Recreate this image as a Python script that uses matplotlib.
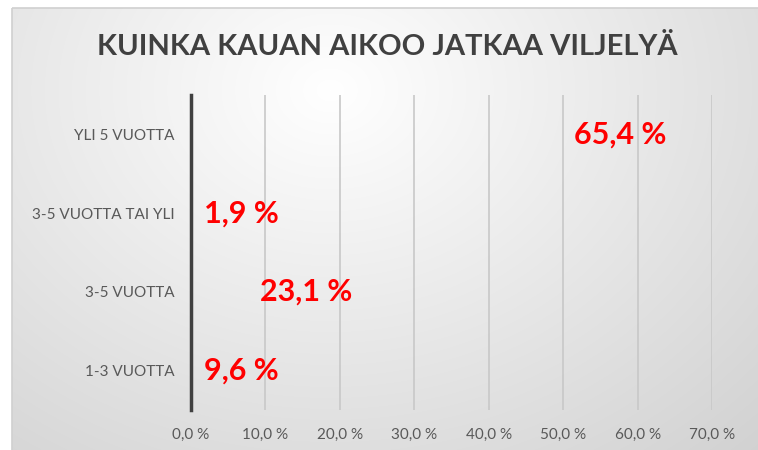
import numpy as np
import matplotlib
matplotlib.use("Agg")
import matplotlib.pyplot as plt
from matplotlib.patches import Rectangle

categories = ["1-3 VUOTTA", "3-5 VUOTTA", "3-5 VUOTTA TAI YLI", "YLI 5 VUOTTA"]
values = [9.6, 23.1, 1.9, 65.4]
xticks = [0, 10, 20, 30, 40, 50, 60, 70]
title = "KUINKA KAUAN AIKOO JATKAA VILJELYÄ"

plt.rcParams['font.family'] = ['Lato', 'DejaVu Sans']

W, H = 758, 450
fig = plt.figure(figsize=(W / 100, H / 100), dpi=100)

# background gradient of the chart area
bg = fig.add_axes([0, 0, 1, 1])
yy, xx = np.mgrid[0:H, 0:W]
d = np.sqrt(((xx - 330) / 520.0) ** 2 + ((yy - 90) / 420.0) ** 2)
shade = np.clip(1.0 - 0.15 * d, 0.82, 1.0)
img = np.dstack([shade, shade, shade])
img[:8, :, :] = 1.0
img[:, :12, :] = 1.0
bg.imshow(img, extent=[0, W, H, 0], aspect='auto', interpolation='bilinear')
bg.add_patch(Rectangle((12, 8), W, H, fill=False, edgecolor='#d0d0d0', lw=1.2))
bg.set_xlim(0, W)
bg.set_ylim(H, 0)
bg.axis('off')

ax = fig.add_axes([191 / W, 1 - 410 / H, (712 - 191) / W, (410 - 95) / H])
ax.patch.set_alpha(0)
y = np.arange(len(categories))
ax.barh(y, values, height=0.6, color='none')
ax.set_xlim(0, 70)
ax.set_ylim(-0.5, len(categories) - 0.5)
ax.set_xticks(xticks)
ax.set_xticklabels([f"{t:.1f} %".replace('.', ',') for t in xticks])
ax.set_yticks(y)
ax.set_yticklabels(categories)
ax.tick_params(axis='both', length=0, labelsize=11, colors='#595959')
ax.tick_params(axis='x', pad=13)
ax.tick_params(axis='y', pad=12)
ax.grid(axis='x', color='#c8c8c8', lw=1.2)
ax.set_axisbelow(True)
for s in ['top', 'right', 'bottom']:
    ax.spines[s].set_visible(False)
ax.spines['left'].set_color('#404040')
ax.spines['left'].set_linewidth(2.5)

for yi, v in zip(y, values):
    lab = f"{v:.1f} %".replace('.', ',')
    if v < 12:
        ax.annotate(lab, (0, yi), xytext=(9, 0), textcoords='offset points',
                    ha='left', va='center', color='#ff0000', fontsize=22, fontweight='bold')
    else:
        ax.annotate(lab, (v, yi), xytext=(-8, 0), textcoords='offset points',
                    ha='right', va='center', color='#ff0000', fontsize=22, fontweight='bold')

fig.text(387 / W, 1 - 47 / H, title, ha='center', va='center',
         fontsize=21, fontweight='bold', color='#404040')

fig.savefig('out.png', dpi=100)
